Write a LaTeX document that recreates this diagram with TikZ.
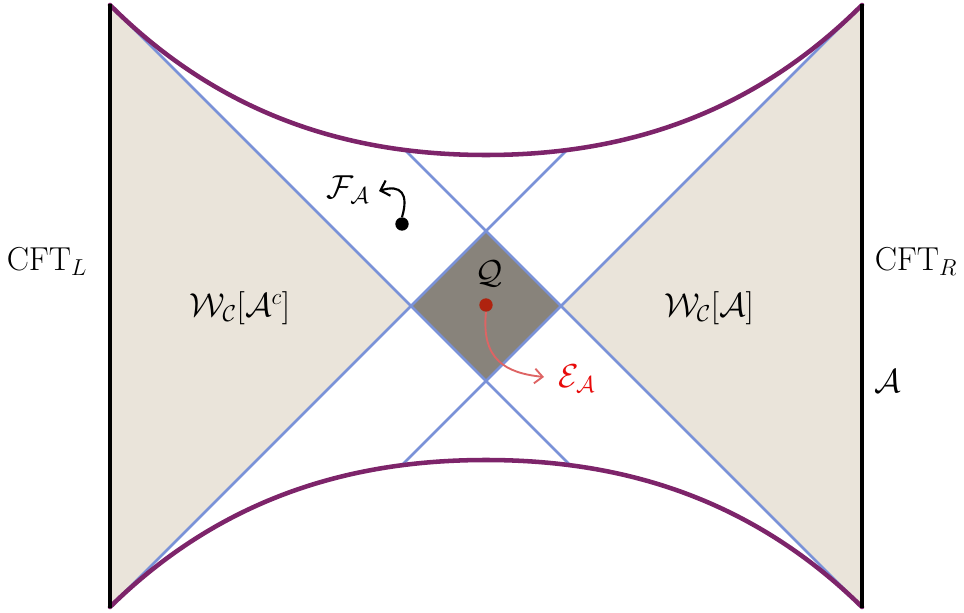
\documentclass[tikz,border=0pt]{standalone}
\usetikzlibrary{arrows.meta,calc}
\definecolor{beige}{RGB}{234,228,218}
\definecolor{dgray}{RGB}{136,131,123}
\definecolor{bline}{RGB}{122,146,216}
\definecolor{purp}{RGB}{125,36,106}
\definecolor{reddot}{RGB}{175,35,15}
\definecolor{redarr}{RGB}{222,100,100}
\definecolor{elabel}{RGB}{232,10,10}
\begin{document}
\begin{tikzpicture}[x=0.75pt,y=-0.75pt,
  font=\fontsize{25}{30}\selectfont,
  blueln/.style={draw=bline,line width=2pt},
  purpln/.style={draw=purp,line width=3.4pt,line cap=round},
  barln/.style={draw=black,line width=3.2pt},
  dotnode/.style={circle,inner sep=0pt,minimum size=10pt},
  lbl/.style={inner sep=0pt}]
\useasboundingbox (0,0) rectangle (964,613);
\coordinate (TL) at (110,5);
\coordinate (TR) at (862,5);
\coordinate (BL) at (110,607);
\coordinate (BR) at (862,607);
\coordinate (DL) at (411,306);
\coordinate (DR) at (561,306);
\coordinate (DT) at (486,231);
\coordinate (DB) at (486,381);
% wedges and diamond
\fill[beige] (TL) -- (DL) -- (BL) -- cycle;
\fill[beige] (TR) -- (DR) -- (BR) -- cycle;
\fill[dgray] (DL) -- (DT) -- (DR) -- (DB) -- cycle;
% light rays clipped to the region between the curves
\begin{scope}
\clip (TL) .. controls (230,125) and (366,155) .. (486,155)
     .. controls (606,155) and (742,125) .. (TR) -- (BR)
     .. controls (742,489) and (606,460) .. (486,460)
     .. controls (366,460) and (230,489) .. (BL) -- cycle;
\draw[blueln] (TL) -- ($(TL)!2!(DB)$);
\draw[blueln] (BL) -- ($(BL)!2!(DT)$);
\draw[blueln] (TR) -- ($(TR)!2!(DB)$);
\draw[blueln] (BR) -- ($(BR)!2!(DT)$);
\end{scope}
% singularities
\draw[purpln] (TL) .. controls (230,125) and (366,155) .. (486,155)
     .. controls (606,155) and (742,125) .. (TR);
\draw[purpln] (BL) .. controls (230,489) and (366,460) .. (486,460)
     .. controls (606,460) and (742,489) .. (BR);
% boundaries
\draw[barln] (110,4) -- (110,608);
\draw[barln] (862,4) -- (862,608);
% labels
\node[lbl] (cftl) at (47,262) {$\mathrm{CFT}_L$};
\node[lbl] (cftr) at (916,262) {$\mathrm{CFT}_R$};
\node[lbl] (A) at (888,381) {$\mathcal{A}$};
\node[lbl] (wac) at (240,308) {$\mathcal{W}_{\mathcal{C}}[\mathcal{A}^c]$};
\node[lbl] (wa) at (709,308) {$\mathcal{W}_{\mathcal{C}}[\mathcal{A}]$};
\node[lbl] (Q) at (489,274) {$\mathcal{Q}$};
\node[lbl,text=elabel] (EA) at (577,379) {$\mathcal{E}_{\mathcal{A}}$};
\node[lbl] (FA) at (348,190) {$\mathcal{F}_{\mathcal{A}}$};
% dots and arrows
\node[dotnode,fill=reddot] (rd) at (486,305) {};
\node[dotnode,fill=black] (bd) at (402,224) {};
\coordinate (etip) at (544,377);
\coordinate (ftip) at (379,191);
\draw[draw=redarr,line width=1.4pt,-{Straight Barb[length=6pt,width=11pt,line width=1.4pt]}]
  (rd.south) .. controls (481,360) and (506,373) .. (etip);
\draw[draw=black,line width=1.6pt,-{Straight Barb[length=6pt,width=12pt,line width=1.6pt]}]
  (bd.north) .. controls (409,194) and (401,184) .. (ftip);
\end{tikzpicture}
\end{document}
